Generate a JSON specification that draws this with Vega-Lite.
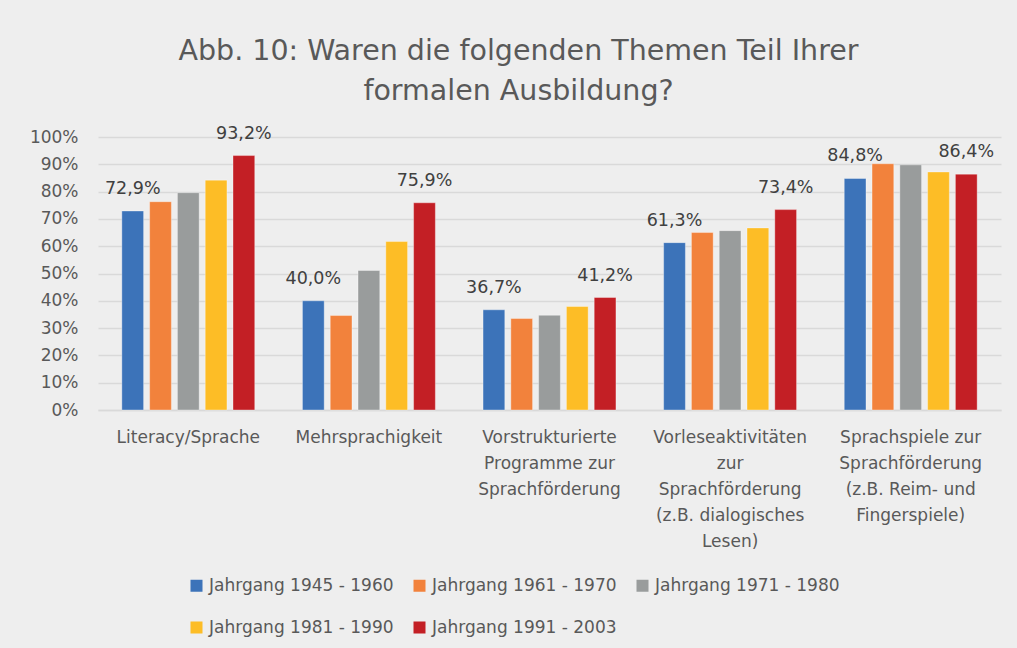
{
  "$schema": "https://vega.github.io/schema/vega-lite/v6.json",
  "width": 903,
  "height": 273,
  "autosize": {"type": "none"},
  "padding": {"left": 98, "top": 137, "right": 16, "bottom": 238},
  "background": "#eeeeee",
  "title": {
    "text": ["Abb. 10: Waren die folgenden Themen Teil Ihrer", "formalen Ausbildung?"],
    "fontSize": 28.5,
    "font": "DejaVu Sans",
    "fontWeight": "normal",
    "color": "#595959",
    "lineHeight": 40,
    "anchor": "middle",
    "dx": -31,
    "offset": 19
  },
  "config": {
    "font": "DejaVu Sans",
    "view": {"stroke": null},
    "locale": {"number": {"decimal": ",", "thousands": ".", "grouping": [3], "currency": ["", " €"]}}
  },
  "data": {
    "values": [
      {"topic": "Literacy/Sprache", "cohort": "Jahrgang 1945 - 1960", "value": 0.729},
      {"topic": "Literacy/Sprache", "cohort": "Jahrgang 1961 - 1970", "value": 0.763},
      {"topic": "Literacy/Sprache", "cohort": "Jahrgang 1971 - 1980", "value": 0.796},
      {"topic": "Literacy/Sprache", "cohort": "Jahrgang 1981 - 1990", "value": 0.842},
      {"topic": "Literacy/Sprache", "cohort": "Jahrgang 1991 - 2003", "value": 0.932},
      {"topic": "Mehrsprachigkeit", "cohort": "Jahrgang 1945 - 1960", "value": 0.400},
      {"topic": "Mehrsprachigkeit", "cohort": "Jahrgang 1961 - 1970", "value": 0.346},
      {"topic": "Mehrsprachigkeit", "cohort": "Jahrgang 1971 - 1980", "value": 0.511},
      {"topic": "Mehrsprachigkeit", "cohort": "Jahrgang 1981 - 1990", "value": 0.617},
      {"topic": "Mehrsprachigkeit", "cohort": "Jahrgang 1991 - 2003", "value": 0.759},
      {"topic": "Vorstrukturierte|Programme zur|Sprachförderung", "cohort": "Jahrgang 1945 - 1960", "value": 0.367},
      {"topic": "Vorstrukturierte|Programme zur|Sprachförderung", "cohort": "Jahrgang 1961 - 1970", "value": 0.335},
      {"topic": "Vorstrukturierte|Programme zur|Sprachförderung", "cohort": "Jahrgang 1971 - 1980", "value": 0.347},
      {"topic": "Vorstrukturierte|Programme zur|Sprachförderung", "cohort": "Jahrgang 1981 - 1990", "value": 0.379},
      {"topic": "Vorstrukturierte|Programme zur|Sprachförderung", "cohort": "Jahrgang 1991 - 2003", "value": 0.412},
      {"topic": "Vorleseaktivitäten|zur|Sprachförderung|(z.B. dialogisches|Lesen)", "cohort": "Jahrgang 1945 - 1960", "value": 0.613},
      {"topic": "Vorleseaktivitäten|zur|Sprachförderung|(z.B. dialogisches|Lesen)", "cohort": "Jahrgang 1961 - 1970", "value": 0.650},
      {"topic": "Vorleseaktivitäten|zur|Sprachförderung|(z.B. dialogisches|Lesen)", "cohort": "Jahrgang 1971 - 1980", "value": 0.657},
      {"topic": "Vorleseaktivitäten|zur|Sprachförderung|(z.B. dialogisches|Lesen)", "cohort": "Jahrgang 1981 - 1990", "value": 0.667},
      {"topic": "Vorleseaktivitäten|zur|Sprachförderung|(z.B. dialogisches|Lesen)", "cohort": "Jahrgang 1991 - 2003", "value": 0.734},
      {"topic": "Sprachspiele zur|Sprachförderung|(z.B. Reim- und|Fingerspiele)", "cohort": "Jahrgang 1945 - 1960", "value": 0.848},
      {"topic": "Sprachspiele zur|Sprachförderung|(z.B. Reim- und|Fingerspiele)", "cohort": "Jahrgang 1961 - 1970", "value": 0.902},
      {"topic": "Sprachspiele zur|Sprachförderung|(z.B. Reim- und|Fingerspiele)", "cohort": "Jahrgang 1971 - 1980", "value": 0.898},
      {"topic": "Sprachspiele zur|Sprachförderung|(z.B. Reim- und|Fingerspiele)", "cohort": "Jahrgang 1981 - 1990", "value": 0.872},
      {"topic": "Sprachspiele zur|Sprachförderung|(z.B. Reim- und|Fingerspiele)", "cohort": "Jahrgang 1991 - 2003", "value": 0.864}
    ]
  },
  "encoding": {
    "x": {
      "field": "topic",
      "type": "nominal",
      "sort": null,
      "scale": {"paddingInner": 0.264, "paddingOuter": 0.132},
      "axis": {
        "title": null,
        "labelAngle": 0,
        "labelExpr": "split(datum.label, '|')",
        "labelFontSize": 17,
        "labelColor": "#595959",
        "labelLineHeight": 26,
        "labelPadding": 27,
        "labelBaseline": "middle",
        "labelLimit": 300,
        "ticks": false,
        "domainColor": "#d9d9d9",
        "domainWidth": 1.5
      }
    },
    "xOffset": {
      "field": "cohort",
      "type": "nominal",
      "scale": {"paddingInner": 0.217, "paddingOuter": 0}
    },
    "y": {
      "field": "value",
      "type": "quantitative",
      "scale": {"domain": [0, 1], "nice": false},
      "axis": {
        "title": null,
        "values": [0, 0.1, 0.2, 0.3, 0.4, 0.5, 0.6, 0.7, 0.8, 0.9, 1.0],
        "format": ".0%",
        "labelFontSize": 17,
        "labelColor": "#595959",
        "labelPadding": 20,
        "domain": false,
        "ticks": false,
        "gridColor": "#d9d9d9",
        "gridWidth": 1.5
      }
    }
  },
  "layer": [
    {
      "mark": {"type": "bar", "stroke": "#ffffff", "strokeWidth": 1, "strokeOpacity": 0.35},
      "encoding": {
        "color": {
          "field": "cohort",
          "type": "nominal",
          "scale": {
            "domain": ["Jahrgang 1945 - 1960", "Jahrgang 1961 - 1970", "Jahrgang 1971 - 1980", "Jahrgang 1981 - 1990", "Jahrgang 1991 - 2003"],
            "range": ["#3c73b9", "#f2823c", "#999c9c", "#fdbd26", "#c31f25"]
          },
          "legend": {
            "title": null,
            "orient": "none",
            "legendX": 90,
            "legendY": 440,
            "direction": "horizontal",
            "columns": 3,
            "symbolType": "square",
            "symbolSize": 144,
            "symbolStrokeWidth": 0,
            "symbolOffset": 0,
            "labelFontSize": 17,
            "labelColor": "#595959",
            "labelOffset": 4,
            "columnPadding": 17,
            "rowPadding": 24,
            "labelLimit": 300
          }
        }
      }
    },
    {
      "transform": [{"filter": "datum.cohort == 'Jahrgang 1945 - 1960' || datum.cohort == 'Jahrgang 1991 - 2003'"}],
      "mark": {"type": "text", "baseline": "middle", "dy": -22, "fontSize": 17.5, "color": "#404040"},
      "encoding": {
        "text": {"field": "value", "type": "quantitative", "format": ".1%"}
      }
    }
  ]
}
